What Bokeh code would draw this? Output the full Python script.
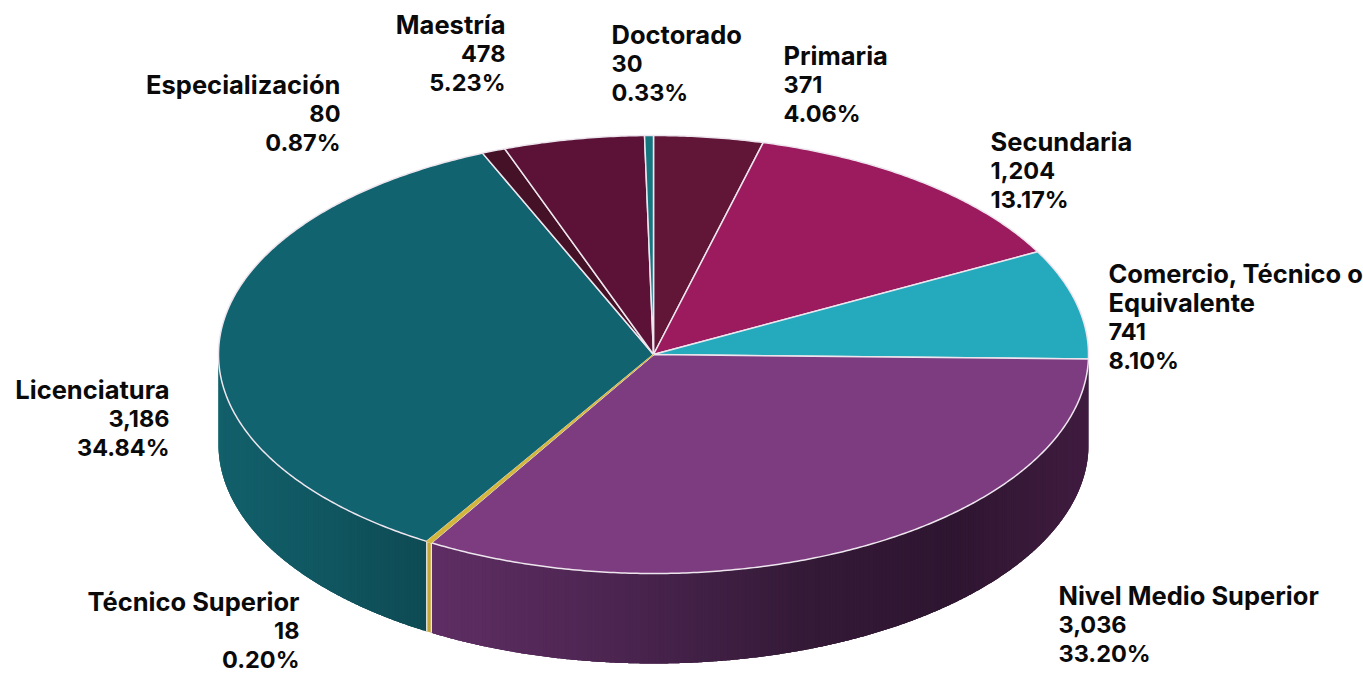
import math
from bokeh.plotting import figure
from bokeh.models import Range1d, ColumnDataSource
from bokeh.core.properties import value
from bokeh.embed import file_html
from bokeh.resources import INLINE

# ---- data ----
categories = ["Primaria", "Secundaria", "Comercio, Técnico o\nEquivalente", "Nivel Medio Superior",
              "Técnico Superior", "Licenciatura", "Especialización", "Maestría", "Doctorado"]
counts = [371, 1204, 741, 3036, 18, 3186, 80, 478, 30]

# ---- style ----
top_colors = ["#611537", "#9b1b5e", "#25a9bd", "#7d3c80", "#d2b63c", "#11636f", "#451127", "#5c1236", "#157680"]
side_stops = {
    2: [(1087, "#1b7f8e"), (1089, "#1b7f8e")],
    3: [(430, "#5f2e64"), (620, "#4b2550"), (800, "#351a38"), (950, "#2e1530"), (1088, "#401c40")],
    4: [(420, "#c4a636"), (435, "#c4a636")],
    5: [(218, "#12606b"), (330, "#105660"), (430, "#0e4a54")],
}
label_anchor = [(783, 55, "left"), (990, 141, "left"), (1108, 273, "left"), (1058, 595, "left"),
                (299, 601, "right"), (169, 389, "right"), (340, 84, "right"), (505, 24, "right"), (611, 34, "left")]
CX, CY, RX, RY, DEPTH = 653, 354, 435, 219, 90
LINE_STEP = 29
FONT, NAME_SIZE, NUMBER_SIZE = "Inter", "25.5px", "23.5px"

total = sum(counts)
p = figure(width=1363, height=675, x_range=Range1d(0, 1363), y_range=Range1d(675, 0),
           output_backend="svg", toolbar_location=None, min_border=0)
p.axis.visible = False
p.grid.visible = False
p.outline_line_color = None
p.background_fill_color = "white"


def pt(deg):
    r = math.radians(deg)
    return CX + RX * math.sin(r), CY - RY * math.cos(r)


def hex2rgb(h):
    return tuple(int(h[i:i + 2], 16) for i in (1, 3, 5))


def grad(stops, x):
    if x <= stops[0][0]:
        return stops[0][1]
    for (x0, c0), (x1, c1) in zip(stops, stops[1:]):
        if x <= x1:
            t = (x - x0) / (x1 - x0)
            a, b = hex2rgb(c0), hex2rgb(c1)
            return "#%02x%02x%02x" % tuple(round(a[i] + (b[i] - a[i]) * t) for i in range(3))
    return stops[-1][1]


# slice angle limits, clockwise from north
limits = [0.0]
for c in counts:
    limits.append(limits[-1] + c / total * 360)

# side walls: each strip reaches a little past its own end, later strips paint over it
sx, sy, sc = [], [], []
for i, stops in side_stops.items():
    a0, a1 = max(limits[i], 90), min(limits[i + 1], 270)
    n = max(1, int((a1 - a0) / 0.5))
    for k in range(n):
        u0, u1 = a0 + (a1 - a0) * k / n, a0 + (a1 - a0) * min(n, k + 3) / n
        xs, ys = [], []
        for m in range(7):
            x, y = pt(u0 + (u1 - u0) * m / 6)
            xs.append(x)
            ys.append(y)
        sx.append(xs + xs[::-1])
        sy.append(ys + [v + DEPTH for v in ys[::-1]])
        sc.append(grad(stops, xs[0]))
p.patches(sx, sy, fill_color=sc, line_color=None)

# white verticals at the edges of the yellow strip
vx, vy = [], []
for i in (4, 5):
    x0, y0 = pt(limits[i])
    vx.append([x0, x0])
    vy.append([y0, y0 + DEPTH])
p.multi_line(vx, vy, line_color="#f2efe6", line_width=1.2)

# top faces
tx, ty = [], []
for i in range(len(counts)):
    a0, a1 = limits[i], limits[i + 1]
    n = max(2, int((a1 - a0) / 0.5))
    xs, ys = [CX], [CY]
    for k in range(n + 1):
        x, y = pt(a0 + (a1 - a0) * k / n)
        xs.append(x)
        ys.append(y)
    tx.append(xs)
    ty.append(ys)
p.patches(tx, ty, fill_color=top_colors, line_color="#eee6ee", line_width=1.5, line_join="round")
# the thin yellow wedge stays visible over its own outline
p.patch(tx[4], ty[4], fill_color=top_colors[4], line_color=top_colors[4], line_width=1.0)

# labels
lx, ly, lt, la, ls = [], [], [], [], []
for name, c, (x, y, al) in zip(categories, counts, label_anchor):
    names = name.split("\n")
    lines = names + [f"{c:,}", f"{c / total * 100:.2f}%"]
    for j, s in enumerate(lines):
        lx.append(x)
        ly.append(y + j * LINE_STEP)
        lt.append(s)
        la.append(al)
        ls.append(NAME_SIZE if j < len(names) else NUMBER_SIZE)
src = ColumnDataSource(dict(x=lx, y=ly, t=lt, a=la, s=ls))
p.text("x", "y", text="t", source=src, text_align="a", text_baseline="middle",
       text_font=value(FONT), text_font_size="s", text_font_style="bold", text_color="#0a0a0a")

open("out.html", "w").write(file_html(p, INLINE))
